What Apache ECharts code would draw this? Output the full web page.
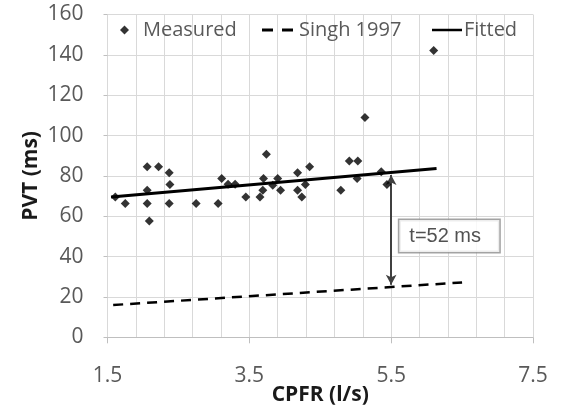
<!DOCTYPE html>
<html>
<head>
<meta charset="utf-8">
<script src="https://cdn.jsdelivr.net/npm/echarts@6/dist/echarts.min.js"></script>
<style>
  html, body { margin: 0; padding: 0; background: #fff; }
  #chart { width: 561px; height: 407px; }
</style>
</head>
<body>
<div id="chart"></div>
<script>
// measured points (CPFR l/s, PVT ms)
const measuredX = [1.61, 1.75, 2.06, 2.22, 2.06, 2.06, 2.09, 2.37, 2.38, 2.37, 2.75, 3.06, 3.11, 3.20,
  3.30, 3.45, 3.65, 3.69, 3.70, 3.74, 3.83, 3.90, 3.94, 4.18, 4.18, 4.24, 4.29, 4.35,
  4.91, 5.03, 5.02, 4.79, 5.13, 5.36, 5.44, 6.10];
const measuredY = [69.6, 66.3, 84.5, 84.5, 72.9, 66.3, 57.7, 81.5, 75.7, 66.3, 66.3, 66.3, 78.7, 75.9,
  75.9, 69.6, 69.6, 72.9, 78.7, 90.7, 75.4, 78.7, 72.9, 81.5, 72.9, 69.6, 75.7, 84.5,
  87.4, 87.4, 78.7, 72.9, 108.9, 82.0, 75.7, 142.2];

// fitted line
const fittedX = [1.55, 6.14];
const fittedY = [69.6, 83.7];

// Singh 1997 line
const singhX = [1.58, 6.50];
const singhY = [16.0, 27.2];

// gap arrow + its note
const arrowX = 5.5;
const arrowY = [80.5, 26.0];
const noteX = 5.615;
const noteY = 50.2;
const noteText = 't=52 ms';

const xTicks = [1.5, 7.5, 2];   // min, max, step
const yTicks = [0, 160, 20];

const chart = echarts.init(document.getElementById('chart'));

const legendText = { fontFamily: 'Open Sans', fontSize: 20, color: '#595959', lineHeight: 22 };
const axisFont = { fontFamily: 'Open Sans', fontSize: 21, color: '#595959' };
const titleFont = { fontFamily: 'Open Sans', fontSize: 21, fontWeight: 'bold', color: '#1a1a1a' };

const option = {
  animation: false,
  backgroundColor: '#fff',
  grid: { left: 107.5, right: 28, top: 14.5, bottom: 69.7, containLabel: false, outerBoundsMode: 'none' },
  legend: [
    {
      left: 115, top: 14, itemWidth: 9, itemHeight: 9, icon: 'diamond',
      itemStyle: { color: '#000' },
      data: ['Measured'], textStyle: Object.assign({ padding: [0, 0, 0, 9] }, legendText)
    },
    {
      left: 257, top: 14, itemWidth: 33, itemHeight: 3,
      icon: 'path://M0,0H11V3H0Z M20,0H31V3H20Z',
      itemStyle: { color: '#000' },
      data: ['Singh 1997'], textStyle: legendText
    },
    {
      left: 427, top: 14, itemWidth: 30, itemHeight: 2.5,
      icon: 'path://M0,0H30V2.5H0Z',
      itemStyle: { color: '#000' },
      data: ['Fitted'], textStyle: Object.assign({ padding: [0, 0, 0, -3] }, legendText)
    }
  ],
  xAxis: {
    type: 'value',
    min: xTicks[0], max: xTicks[1], interval: xTicks[2],
    name: 'CPFR (l/s)', nameLocation: 'middle', nameGap: 47, nameMoveOverlap: false,
    nameTextStyle: titleFont,
    axisLine: { show: true, lineStyle: { color: '#bfbfbf', width: 1 } },
    axisTick: { show: true, length: 6, lineStyle: { color: '#bfbfbf' } },
    minorTick: { show: false, splitNumber: 5 },
    minorSplitLine: { show: true, lineStyle: { color: '#d9d9d9', width: 1 } },
    splitLine: { show: true, lineStyle: { color: '#d9d9d9', width: 1 } },
    axisLabel: Object.assign({ margin: 28, formatter: v => v.toFixed(1) }, axisFont)
  },
  yAxis: {
    type: 'value',
    min: yTicks[0], max: yTicks[1], interval: yTicks[2],
    name: 'PVT (ms)', nameLocation: 'middle', nameGap: 66, nameMoveOverlap: false,
    nameTextStyle: titleFont,
    axisLine: { show: false },
    axisTick: { show: true, length: 4, lineStyle: { color: '#bfbfbf' } },
    splitLine: { show: true, lineStyle: { color: '#d9d9d9', width: 1 } },
    axisLabel: Object.assign({ margin: 24 }, axisFont)
  },
  series: [
    {
      name: 'Measured',
      type: 'scatter',
      symbol: 'diamond',
      symbolSize: 9,
      itemStyle: { color: '#000' },
      data: measuredX.map((x, i) => [x, measuredY[i]]),
      z: 5
    },
    {
      name: 'Singh 1997',
      type: 'line',
      symbol: 'none',
      itemStyle: { color: '#000' },
      lineStyle: { color: '#000', width: 2.5, type: [10, 7] },
      data: singhX.map((x, i) => [x, singhY[i]])
    },
    {
      name: 'Fitted',
      type: 'line',
      symbol: 'none',
      itemStyle: { color: '#000' },
      lineStyle: { color: '#000', width: 3 },
      data: fittedX.map((x, i) => [x, fittedY[i]])
    },
    {
      name: 'gap',
      type: 'scatter',
      symbolSize: 0,
      data: [[noteX, noteY]],
      label: {
        show: true, position: 'right', distance: 0,
        formatter: noteText,
        fontFamily: 'Liberation Sans', fontSize: 20, color: '#262626',
        backgroundColor: '#fff', borderColor: '#8c8c8c', borderWidth: 1.5,
        padding: [5, 10], width: 80, lineHeight: 22
      },
      markLine: {
        silent: true,
        symbol: ['arrow', 'arrow'],
        symbolSize: [8, 10],
        label: { show: false },
        lineStyle: { color: '#404040', width: 2, type: 'solid' },
        data: [[{ coord: [arrowX, arrowY[0]] }, { coord: [arrowX, arrowY[1]] }]]
      },
      z: 4
    }
  ]
};

chart.setOption(option);
</script>
</body>
</html>
